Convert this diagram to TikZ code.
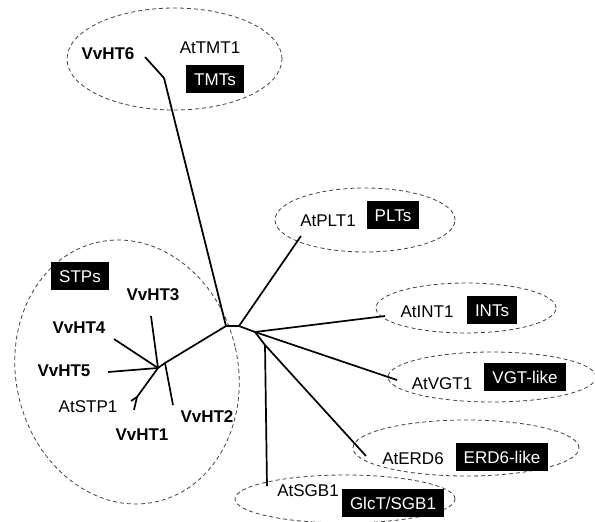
\documentclass[tikz,border=0pt]{standalone}
\usepackage{fontspec}
\setmainfont{Liberation Sans}
\begin{document}
\begin{tikzpicture}[x=1pt,y=-1pt,
  lbl/.style={inner sep=0pt, font=\fontsize{17pt}{20pt}\selectfont, text height=12.5pt, text depth=0pt},
  blbl/.style={lbl, font=\fontsize{17pt}{20pt}\selectfont\bfseries},
  grpbox/.style={fill=black, text=white, inner xsep=8pt, inner ysep=0pt, minimum height=28pt,
     font=\fontsize{17pt}{20pt}\selectfont, text height=12.5pt, text depth=0pt},
  grp/.style={draw=black!75, line width=0.8pt, dash pattern=on 4pt off 3pt},
  br/.style={line width=1.7pt, line join=round}]
\useasboundingbox (0,0) rectangle (595,522);
% group ellipses
\draw[grp] (174.5,59) ellipse [x radius=107.5pt, y radius=51pt];
\draw[grp] (365,220) ellipse [x radius=90pt, y radius=32pt];
\draw[grp] (466,308) ellipse [x radius=90pt, y radius=25pt];
\draw[grp] (492,377) ellipse [x radius=104pt, y radius=25pt];
\draw[grp] (466,448) ellipse [x radius=113pt, y radius=28pt];
\draw[grp] (345,499) ellipse [x radius=110pt, y radius=24pt];
\draw[grp, rotate around={13:(127,372)}] (127,372) ellipse [x radius=111pt, y radius=133pt];
% tree junctions
\coordinate (A) at (226,326);
\coordinate (B) at (239,326);
\coordinate (C) at (255,332);
\coordinate (S) at (265,345);
\coordinate (K) at (164,78);
\coordinate (D) at (165,363);
\coordinate (E) at (158,368);
\coordinate (F) at (137,397);
% tips
\coordinate (tmt) at (145,57);
\coordinate (plt) at (301,236);
\coordinate (int) at (385,316);
\coordinate (vgt) at (397,380);
\coordinate (erd) at (366,456);
\coordinate (sgb) at (267,486);
\coordinate (ht2) at (173,405);
\coordinate (ht3) at (151,316);
\coordinate (ht4) at (114,339);
\coordinate (ht5) at (108,372);
\coordinate (stpa) at (131,401);
\coordinate (stpb) at (134,410);
% branches
\draw[br] (tmt) -- (K) -- (A);
\draw[br] (A) -- (B) -- (C);
\draw[br] (B) -- (plt);
\draw[br] (C) -- (int);
\draw[br] (C) -- (vgt);
\draw[br] (C) -- (S) -- (erd);
\draw[br] (S) -- (sgb);
\draw[br] (A) -- (D) -- (E);
\draw[br] (D) -- (ht2);
\draw[br] (E) -- (ht3);
\draw[br] (E) -- (ht4);
\draw[br] (E) -- (ht5);
\draw[br] (E) -- (F) -- (stpa);
\draw[br] (F) -- (stpb);
% labels
\node[blbl] (l6) at (108,53) {VvHT6};
\node[lbl] (ltmt) at (210,47) {AtTMT1};
\node[grpbox] (gtmt) at (215,79) {TMTs};
\node[lbl] (lplt) at (328,220) {AtPLT1};
\node[grpbox] (gplt) at (393,215) {PLTs};
\node[lbl] (lint) at (427,311) {AtINT1};
\node[grpbox] (gint) at (492,310) {INTs};
\node[lbl] (lvgt) at (442,383) {AtVGT1};
\node[grpbox] (gvgt) at (525,377) {VGT-like};
\node[lbl] (lerd) at (413,458) {AtERD6};
\node[grpbox] (gerd) at (502,457) {ERD6-like};
\node[lbl] (lsgb) at (308,490) {AtSGB1};
\node[grpbox] (gsgb) at (393,503) {GlcT/SGB1};
\node[grpbox] (gstp) at (80,276) {STPs};
\node[blbl] (l3) at (153,294) {VvHT3};
\node[blbl] (l4) at (79,327) {VvHT4};
\node[blbl] (l5) at (64,370) {VvHT5};
\node[lbl] (lstp) at (88,406) {AtSTP1};
\node[blbl] (l1) at (142,434) {VvHT1};
\node[blbl] (l2) at (207,416) {VvHT2};
\end{tikzpicture}
\end{document}
